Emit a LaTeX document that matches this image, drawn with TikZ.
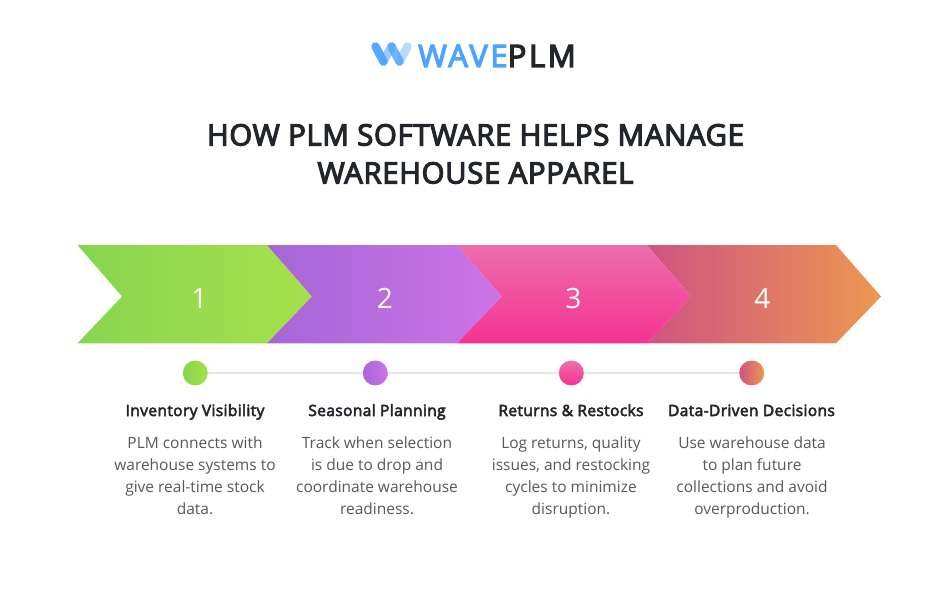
\documentclass[tikz,border=0pt]{standalone}
\usepackage{fontspec}
\setmainfont{Open Sans}
\newfontfamily\titlefont[FakeBold=4,LetterSpace=2.2]{Open Sans}
\newfontfamily\logofont[FakeBold=4,LetterSpace=8.6]{Open Sans}
\newfontfamily\headfont[FakeBold=3.5,LetterSpace=2.5]{Open Sans}
\definecolor{inkdark}{HTML}{22252B}
\definecolor{bodygrey}{HTML}{55585C}
\definecolor{waveblue}{HTML}{4DA3FF}
\definecolor{railgrey}{HTML}{E6E6E6}
\definecolor{greenleft}{HTML}{88D54F}
\definecolor{greenright}{HTML}{A6E04C}
\definecolor{purpleleft}{HTML}{A666D6}
\definecolor{purpleright}{HTML}{CC74E8}
\definecolor{pinktop}{HTML}{EE6EAA}
\definecolor{pinkbottom}{HTML}{F53293}
\definecolor{orangeleft}{HTML}{CF5382}
\definecolor{orangeright}{HTML}{EC9850}
\tikzset{
  numlabel/.style={text=white,anchor=base,font=\fontsize{28}{32}\selectfont},
  dotmark/.style={circle,minimum size=25pt,inner sep=0pt},
  headlabel/.style={text=inkdark,anchor=base,font=\headfont\fontsize{15.5}{18}\selectfont},
  bodylabel/.style={text=bodygrey,align=center,font=\fontsize{15.5}{22}\selectfont,
    execute at begin node=\strut,execute at end node=\strut},
  wavestroke/.style={line width=8.5pt,line cap=round,draw=waveblue}
}

\begin{document}
\begin{tikzpicture}[x=1pt,y=-1pt]
	\useasboundingbox (0,0) rectangle (950,591);

	% logo
	\draw[wavestroke,opacity=.95] (375.5,46.5) -- (383.5,61.5);
	\draw[wavestroke,opacity=.55] (383.5,61.5) -- (391.5,46.5);
	\draw[wavestroke,opacity=.8] (391.5,46.5) -- (399.5,61.5);
	\draw[wavestroke,opacity=.4] (399.5,61.5) -- (407.5,46.5);
	\node[anchor=base west,inner sep=0pt,font=\logofont\fontsize{31}{36}\selectfont] (logo) at (418,67)
		{\textcolor{waveblue}{WAVE}\textcolor{inkdark}{PLM}};

	% title
	\node[text=inkdark,align=center,font=\titlefont\fontsize{29.4}{38}\selectfont,
		execute at begin node=\strut,execute at end node=\strut] (title) at (475.5,159.5)
		{HOW PLM SOFTWARE HELPS MANAGE\\WAREHOUSE APPAREL};

	% arrows, last one first
	\shade[left color=orangeleft,right color=orangeright]
		(646.7,245) -- (836,245) -- (881,296.5) -- (836,343.3) -- (646.7,343.3) -- (691,296.5) -- cycle;
	\shade[top color=pinktop,bottom color=pinkbottom]
		(456.7,245) -- (646.7,245) -- (691,296.5) -- (646.7,343.3) -- (456.7,343.3) -- (501.7,296.5) -- cycle;
	\shade[left color=purpleleft,right color=purpleright]
		(266.7,245) -- (456.7,245) -- (501.7,296.5) -- (456.7,343.3) -- (266.7,343.3) -- (311.7,296.5) -- cycle;
	\shade[left color=greenleft,right color=greenright]
		(77.5,245) -- (266.7,245) -- (311.7,296.5) -- (266.7,343.3) -- (77.5,343.3) -- (122,296.5) -- cycle;

	\node[numlabel] (numa) at (199.3,308) {1};
	\node[numlabel] (numb) at (385,308) {2};
	\node[numlabel] (numc) at (573.3,308) {3};
	\node[numlabel] (numd) at (762.3,308) {4};

	% dots on the rail
	\node[dotmark,left color=greenleft,right color=greenright] (dota) at (195.3,373) {};
	\node[dotmark,left color=purpleleft,right color=purpleright] (dotb) at (375.3,373) {};
	\node[dotmark,top color=pinktop,bottom color=pinkbottom] (dotc) at (571.3,373) {};
	\node[dotmark,left color=orangeleft,right color=orangeright] (dotd) at (751.7,373) {};
	\draw[railgrey,line width=1.5pt] (dota) -- (dotb);
	\draw[railgrey,line width=1.5pt] (dotb) -- (dotc);
	\draw[railgrey,line width=1.5pt] (dotc) -- (dotd);

	% headings
	\node[headlabel] (heada) at (195,416) {Inventory Visibility};
	\node[headlabel] (headb) at (377,416) {Seasonal Planning};
	\node[headlabel] (headc) at (571,416) {Returns \& Restocks};
	\node[headlabel] (headd) at (751.5,416) {Data-Driven Decisions};

	% texts
	\node[bodylabel] (texta) at (195,479)
		{PLM connects with\\warehouse systems to\\give real-time stock\\data.};
	\node[bodylabel] (textb) at (377,479)
		{Track when selection\\is due to drop and\\coordinate warehouse\\readiness.};
	\node[bodylabel] (textc) at (571,479)
		{Log returns, quality\\issues, and restocking\\cycles to minimize\\disruption.};
	\node[bodylabel] (textd) at (752,479)
		{Use warehouse data\\to plan future\\collections and avoid\\overproduction.};

\end{tikzpicture}
\end{document}
